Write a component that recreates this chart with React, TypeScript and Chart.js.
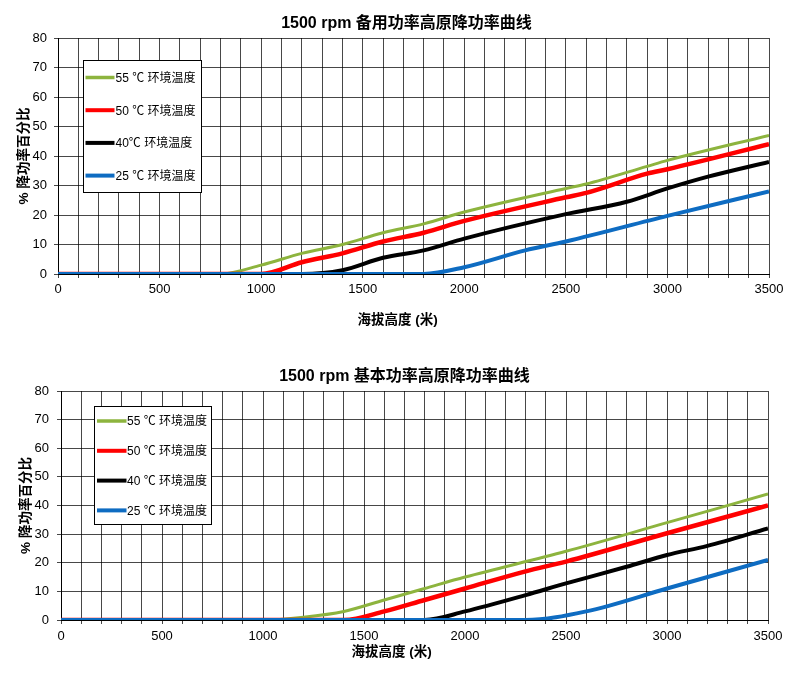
import React, { useEffect, useRef } from 'react';
import { Chart, registerables } from 'chart.js';

Chart.register(...registerables);

const FONT = "'Liberation Sans', Arial, 'Noto Sans CJK SC', sans-serif";

// ---------- data: standby power (备用功率) ----------
const standbyTitle = '1500 rpm 备用功率高原降功率曲线';
const standbyLabels = ['55 ℃ 环境温度', '50 ℃ 环境温度', '40℃ 环境温度', '25 ℃ 环境温度'];
const standby55Alt = [0, 800, 1000, 1200, 1400, 1600, 1800, 2000, 2500, 2600, 2900, 3000, 3500];
const standby55Pct = [0, 0, 3, 7, 10, 14, 17, 21, 29, 30.5, 36.5, 38.5, 47];
const standby50Alt = [0, 1000, 1200, 1400, 1600, 1800, 2000, 2500, 2600, 2900, 3000, 3500];
const standby50Pct = [0, 0, 4, 7, 11, 14, 18, 26, 27.5, 34, 35.5, 44];
const standby40Alt = [0, 1200, 1400, 1600, 1800, 2000, 2500, 2800, 3000, 3200, 3500];
const standby40Pct = [0, 0, 1.3, 5.5, 8, 12, 20.3, 24.5, 29, 33, 38];
const standby25Alt = [0, 1800, 2000, 2300, 2500, 3000, 3500];
const standby25Pct = [0, 0, 2.3, 8, 11, 19.7, 28];

// ---------- data: prime power (基本功率) ----------
const primeTitle = '1500 rpm 基本功率高原降功率曲线';
const primeLabels = ['55 ℃ 环境温度', '50 ℃ 环境温度', '40 ℃ 环境温度', '25 ℃ 环境温度'];
const prime55Alt = [0, 1000, 1200, 1400, 1600, 1800, 2000, 2500, 3000, 3500];
const prime55Pct = [0, 0, 1, 3, 7, 11, 15, 24, 34, 44];
const prime50Alt = [0, 1400, 1600, 1800, 2000, 2300, 2500, 3000, 3500];
const prime50Pct = [0, 0, 3, 7, 11, 17, 20.4, 30.3, 40];
const prime40Alt = [0, 1800, 2000, 2300, 2500, 2800, 3000, 3200, 3500];
const prime40Pct = [0, 0, 3, 8.7, 12.8, 18.6, 22.7, 25.9, 32];
const prime25Alt = [0, 2300, 2600, 3000, 3500];
const prime25Pct = [0, 0, 3, 11, 21];

// ---------- axes ----------
const xMin = 0;
const xMax = 3500;
const xStep = 100;
const xLabelStep = 500;
const yMin = 0;
const yMax = 80;
const yStep = 10;
const xTitle = '海拔高度 (米)';
const yTitle = '% 降功率百分比';

const seriesColors = ['#8DB43E', '#FF0000', '#000000', '#0E6CC2'];
const seriesWidths = [3, 4.5, 4, 4];
const seriesOrder = [4, 3, 2, 1];

const toPts = (alt: number[], pct: number[]) => alt.map((a, i) => ({ x: a, y: pct[i] }));

const boxLegend = {
  id: 'boxLegend',
  afterDatasetsDraw(chart: any, _args: any, opts: any) {
    const { ctx, chartArea } = chart;
    const left = Math.round(chartArea.left + opts.dx) + 0.5;
    const top = Math.round(chartArea.top + opts.dy) + 0.5;
    ctx.save();
    ctx.fillStyle = '#fff';
    ctx.fillRect(left, top, opts.w, opts.h);
    ctx.strokeStyle = '#000';
    ctx.lineWidth = 1;
    ctx.strokeRect(left, top, opts.w, opts.h);
    chart.data.datasets.forEach((ds: any, i: number) => {
      const y = top + opts.rowStart + i * opts.rowGap;
      ctx.beginPath();
      ctx.strokeStyle = ds.borderColor;
      ctx.lineWidth = opts.sampleWidths[i];
      ctx.moveTo(left + opts.sampleStart, y);
      ctx.lineTo(left + opts.sampleEnd, y);
      ctx.stroke();
      ctx.fillStyle = '#000';
      ctx.font = `12px ${FONT}`;
      ctx.textBaseline = 'middle';
      ctx.textAlign = 'left';
      ctx.fillText(ds.label, left + opts.textX, y + 1);
    });
    // x-axis caption
    ctx.fillStyle = '#000';
    ctx.font = `bold 13.5px ${FONT}`;
    ctx.textAlign = 'center';
    ctx.textBaseline = 'middle';
    ctx.fillText(opts.xCaption, opts.xCaptionX, opts.xCaptionY);
    ctx.restore();
  },
};

type Geo = {
  height: number;
  leftPad: number;
  titlePadTop: number;
  titlePadBottom: number;
  yWidth: number;
  rightWidth: number;
  xHeight: number;
  xTickPad: number;
  yTickPad: number;
  yTitlePadTop: number;
  legend: any;
};

function DerateChart(props: {
  title: string;
  labels: string[];
  series: { x: number; y: number }[][];
  geo: Geo;
}) {
  const ref = useRef<HTMLCanvasElement | null>(null);
  useEffect(() => {
    if (!ref.current) return;
    const g = props.geo;
    const gridColor = 'rgba(0,0,0,0.72)';
    const chart = new Chart(ref.current, {
      type: 'line',
      data: {
        datasets: props.series.map((pts, i) => ({
          label: props.labels[i],
          data: pts,
          borderColor: seriesColors[i],
          backgroundColor: seriesColors[i],
          borderWidth: seriesWidths[i],
          pointRadius: 0,
          cubicInterpolationMode: 'monotone',
          order: seriesOrder[i],
          fill: false,
        })),
      },
      options: {
        responsive: false,
        maintainAspectRatio: false,
        animation: false,
        layout: { padding: { left: g.leftPad, right: 0, top: 0, bottom: 0 } },
        plugins: {
          legend: { display: false },
          tooltip: { enabled: false },
          title: {
            display: true,
            text: props.title,
            color: '#000',
            font: { family: FONT, size: 16, weight: 'bold' },
            padding: { top: g.titlePadTop, bottom: g.titlePadBottom },
          },
          boxLegend: { ...g.legend, xCaption: xTitle },
        } as any,
        scales: {
          x: {
            type: 'linear',
            min: xMin,
            max: xMax,
            ticks: {
              stepSize: xStep,
              autoSkip: false,
              maxRotation: 0,
              padding: g.xTickPad,
              color: '#000',
              font: { family: FONT, size: 13 },
              callback: (v: any) => (Number(v) % xLabelStep === 0 ? String(v) : ''),
            },
            grid: { color: gridColor, lineWidth: 1, tickLength: 4 },
            border: { color: '#000', width: 1 },
            afterFit: (s: any) => {
              s.height = g.xHeight;
            },
          },
          y: {
            min: yMin,
            max: yMax,
            ticks: {
              stepSize: yStep,
              padding: g.yTickPad,
              color: '#000',
              font: { family: FONT, size: 13 },
            },
            grid: { color: gridColor, lineWidth: 1, tickLength: 4 },
            border: { color: '#000', width: 1 },
            title: {
              display: true,
              text: yTitle,
              color: '#000',
              font: { family: FONT, size: 13.5, weight: 'bold' },
              padding: { top: g.yTitlePadTop, bottom: 0 },
            },
            afterFit: (s: any) => {
              s.width = g.yWidth;
            },
          },
          spacer: {
            type: 'linear',
            position: 'right',
            display: true,
            grid: { display: false, drawTicks: false },
            border: { display: false },
            ticks: { display: false },
            afterFit: (s: any) => {
              s.width = g.rightWidth;
            },
          },
        },
      } as any,
      plugins: [boxLegend],
    });
    return () => chart.destroy();
  }, []);
  return <canvas ref={ref} width={800} height={props.geo.height} style={{ display: 'block' }} />;
}

const standbyGeo: Geo = {
  height: 345,
  leftPad: 13,
  titlePadTop: 14.4,
  titlePadBottom: 4.4,
  yWidth: 45,
  rightWidth: 31,
  xHeight: 71,
  xTickPad: 4,
  yTickPad: 7,
  yTitlePadTop: 3.2,
  legend: {
    dx: 25,
    dy: 22,
    w: 118,
    h: 132,
    rowStart: 17,
    rowGap: 32.7,
    sampleStart: 2,
    sampleEnd: 31,
    textX: 32,
    sampleWidths: [3.5, 4, 4, 4],
    xCaptionX: 397.5,
    xCaptionY: 320,
  },
};

const primeGeo: Geo = {
  height: 355,
  leftPad: 9,
  titlePadTop: 22.4,
  titlePadBottom: 4.4,
  yWidth: 52,
  rightWidth: 32,
  xHeight: 80,
  xTickPad: 5,
  yTickPad: 8,
  yTitlePadTop: 9.2,
  legend: {
    dx: 33,
    dy: 15,
    w: 117,
    h: 118,
    rowStart: 14.5,
    rowGap: 29.8,
    sampleStart: 2.5,
    sampleEnd: 32,
    textX: 32.5,
    sampleWidths: [3.5, 4, 4, 4],
    xCaptionX: 391.5,
    xCaptionY: 307.5,
  },
};

export default function App() {
  return (
    <div style={{ position: 'fixed', left: 0, top: 0, width: 800, height: 700, background: '#fff' }}>
      <DerateChart
        title={standbyTitle}
        labels={standbyLabels}
        series={[
          toPts(standby55Alt, standby55Pct),
          toPts(standby50Alt, standby50Pct),
          toPts(standby40Alt, standby40Pct),
          toPts(standby25Alt, standby25Pct),
        ]}
        geo={standbyGeo}
      />
      <DerateChart
        title={primeTitle}
        labels={primeLabels}
        series={[
          toPts(prime55Alt, prime55Pct),
          toPts(prime50Alt, prime50Pct),
          toPts(prime40Alt, prime40Pct),
          toPts(prime25Alt, prime25Pct),
        ]}
        geo={primeGeo}
      />
    </div>
  );
}
